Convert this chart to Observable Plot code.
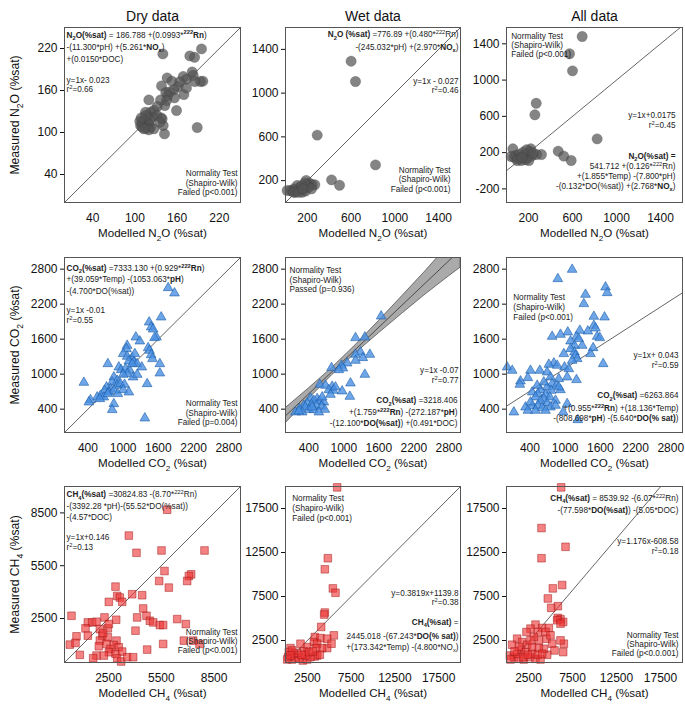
<!DOCTYPE html>
<html><head><meta charset="utf-8">
<script src="https://cdn.jsdelivr.net/npm/d3@7"></script>
<script src="https://cdn.jsdelivr.net/npm/@observablehq/plot@0.6"></script>
<style>
body{margin:0;background:#fff;}
#fig{position:relative;width:685px;height:709px;overflow:hidden;background:#fff;}
#fig svg{position:absolute;}
</style></head><body><div id="fig"></div>
<script>
// ---------- DATA (modelled, measured) ----------
const dryN2O = [[139.7,212.3],[178,209.4],[184.7,207.5],[194.6,219.4],[145.8,178],[168.6,179.9],[181.4,186.6],[182.8,181.4],[173.3,176.1],[193.2,172.8],[196.5,173.3],[185.1,172.8],[163.4,172.3],[152.5,173.3],[161.5,165.6],[155.3,160.9],[137.8,166.6],[143.9,157.1],[149.2,158],[146.8,152.8],[169.5,154.2],[156.3,149.5],[144.9,145.7],[136.4,146.6],[119.8,146.6],[159.1,131.4],[142.5,138.5],[131.6,137.1],[126.9,131.4],[122.2,129],[115.1,129],[131.6,124.2],[137.3,120.9],[124.5,121.9],[117.4,121.9],[112.7,117.1],[117.4,114.7],[110.3,114.7],[119.8,112.3],[113.6,111.4],[108,110],[122.2,107.6],[116,106.1],[110.3,107.6],[126.9,105.2],[119.8,103.8],[140.2,110],[138.7,119.5],[188.5,107.1],[142,98],[121.2,118],[115.1,124.2],[107,116.1],[135.4,114.7],[173.3,163.7],[112.7,105.2],[108.9,120.9]];
const wetN2O = [[600,1292],[640,1106],[290,616],[823,344],[421,207],[494,158],[46,110],[76,125],[107,110],[137,122],[168,140],[189,201],[198,165],[219,177],[244,162],[268,162],[152,94],[91,94],[61,104],[183,104],[213,140],[122,134],[107,155],[174,177],[15,110],[146,152],[238,125],[76,94],[122,94],[158,125]];
const allN2O = [[688,1481],[573,1290],[600,1102],[270,745],[258,617],[824,352],[470,216],[521,161],[588,113],[58,242],[318,179],[273,179],[67,150],[97,132],[127,150],[158,168],[188,187],[215,216],[221,242],[173,121],[133,113],[82,168],[112,179],[194,143],[233,168],[42,157],[152,205],[182,231],[97,113],[203,113],[142,143],[242,194]];
const dryCO2 = [[1767,2480],[1875,2389],[1648,1977],[1443,1891],[1477,1806],[1511,1771],[1568,1634],[1534,1623],[1216,1634],[1284,1566],[1068,1491],[1057,1434],[1426,1451],[1449,1406],[1477,1331],[1500,1263],[1000,1349],[1068,1303],[1153,1280],[1097,1223],[1182,1206],[1239,1177],[1625,1177],[1318,1120],[739,1177],[926,1120],[966,1074],[1040,1091],[1114,1063],[1068,1006],[1000,994],[1170,949],[1239,994],[1625,1017],[841,949],[898,891],[813,863],[898,806],[955,834],[1023,823],[1409,834],[330,857],[716,777],[784,749],[682,720],[756,691],[841,720],[909,663],[1000,731],[1097,691],[614,634],[557,606],[670,606],[443,560],[415,520],[841,491],[813,389],[1369,246],[739,663],[602,577],[1153,1177],[1199,1349]];
const wetCO2 = [[1640,1994],[1200,1623],[1360,1634],[1286,1377],[1200,1337],[1446,1337],[1326,1280],[1200,1234],[1057,1189],[960,1149],[789,1109],[983,1103],[914,1074],[1360,994],[1114,846],[589,823],[686,806],[800,789],[743,731],[817,720],[971,709],[771,651],[1103,617],[429,589],[543,577],[486,549],[589,537],[657,520],[371,503],[446,480],[314,463],[526,463],[617,446],[240,406],[343,434],[400,389],[486,389],[674,394],[171,349],[286,349],[571,349],[229,366],[457,434],[629,606],[857,777]];
const allCO2 = [[1119,2794],[875,2634],[1688,2491],[1716,2394],[1347,2366],[1318,2206],[1489,1989],[1671,1977],[1489,1834],[1517,1788],[1386,1737],[1045,1720],[920,1680],[778,1646],[1545,1646],[1591,1623],[1193,1646],[1233,1606],[1091,1566],[1159,1491],[1477,1451],[1091,1434],[1159,1377],[977,1349],[1176,1320],[1205,1263],[1119,1234],[1648,1177],[807,1189],[722,1166],[864,1149],[989,1120],[1063,1091],[11,1120],[97,1063],[409,1063],[568,1063],[693,1034],[239,880],[227,823],[364,937],[750,949],[892,920],[1034,949],[1193,903],[778,834],[852,806],[693,777],[761,720],[920,731],[580,731],[438,691],[534,663],[665,651],[739,606],[636,577],[494,606],[835,549],[580,537],[693,503],[324,434],[438,451],[534,463],[364,377],[494,377],[608,423],[125,349],[750,434],[1034,491],[966,349],[1216,217],[892,777],[1290,1491],[1432,1349],[1250,1749],[636,863],[523,806],[835,463],[409,520],[665,377]];
const dryCH4 = [[5834,8681],[3655,7212],[4091,6233],[5512,6365],[7955,6365],[5682,5197],[7197,5009],[7065,4915],[6970,4632],[5379,4632],[5928,4256],[2898,4312],[3845,3879],[4413,3822],[2993,3785],[3144,3691],[3277,3446],[2519,3446],[4470,3069],[398,2655],[2273,2561],[2936,2429],[4129,2561],[4659,2655],[4849,2373],[5038,2278],[5417,2128],[5606,2128],[6402,2467],[6894,2184],[1326,2278],[1572,2278],[1818,2316],[1193,1940],[2008,1902],[1326,1525],[682,1488],[2462,1940],[2519,2184],[2140,1525],[2462,1431],[2008,1243],[2955,1243],[4034,1808],[303,1017],[625,1111],[1951,923],[2386,1054],[2803,998],[3087,866],[2614,772],[2519,584],[2898,490],[3277,621],[1818,395],[1629,245],[2993,245],[3220,56],[3561,301],[3902,301],[4697,734],[5606,1054],[6780,1243],[7311,1243],[7671,1054],[871,433],[2235,395],[2197,1676]];
const wetCH4 = [[5906,19900],[4839,11849],[4496,10592],[5410,8420],[5715,7925],[4496,5677],[4420,5448],[4077,4039],[5525,3086],[3353,2896],[4000,2781],[4763,2705],[3239,2324],[3620,2134],[4763,1638],[4191,1638],[3505,1638],[3620,800],[3353,686],[3924,876],[2477,1753],[1715,2134],[2096,1257],[572,1638],[381,1181],[305,610],[762,343],[1143,610],[1524,495],[1981,229],[2477,343],[2858,610],[953,991],[1334,1105],[762,1372],[2286,800],[191,343],[2667,1181],[1829,876],[3124,1257],[572,800],[5258,2134]];
const allCH4 = [[6212,19900],[3977,15278],[6705,13145],[3977,11849],[6326,8801],[5265,8420],[4697,7277],[5834,6401],[5076,6210],[5834,5067],[6137,4915],[6440,4610],[5758,4801],[6137,4420],[3296,4305],[4053,3924],[4811,3924],[2727,3848],[2273,3467],[3561,3467],[4546,2705],[5190,2134],[6515,2134],[6137,2515],[5455,1372],[6440,1181],[4621,876],[4243,1562],[3674,2515],[3106,2896],[1212,2705],[644,2019],[1780,2324],[2349,2019],[2917,1753],[3674,1638],[1667,1372],[2159,1181],[379,800],[833,610],[1402,419],[1970,343],[2652,610],[3296,419],[3864,343],[1212,991],[455,343],[2917,991],[3561,876],[2727,2515],[1402,1753],[4432,3467],[1894,610],[2424,876],[909,1257],[5000,3086],[4053,991]];

// confidence band of the wet CO2 fit
const bandX    = [0,400,800,1200,1600,2000,2400,2800,3000];
const bandLow  = [155,575,983,1355,1700,2035,2365,2675,2825];
const bandHigh = [415,755,1107,1495,1910,2335,2765,3215,3445];

// fitted / reference lines [slope, intercept]
const lineDryN2O = [1,0], lineWetN2O = [1,0], lineAllN2O = [1,0.0175];
const lineDryCO2 = [1,0], lineWetCO2 = [0.95,285], lineAllCO2 = [0.648,451];
const lineDryCH4 = [1,0], lineWetCH4 = [1,0], lineAllCH4 = [1.176,-608.58];

// tick labels
const ticksN2Odry = [40,100,160,220];
const ticksN2O = [200,600,1000,1400];
const ticksN2Oall = [-200,200,600,1000,1400];
const ticksCO2 = [400,1000,1600,2200,2800];
const ticksCH4dry = [2500,5500,8500];
const ticksCH4 = [2500,7500,12500,17500];

// text
const titles = ["Dry data","Wet data","All data"];
const xLabels = ["Modelled N_{2}O (%sat)","Modelled CO_{2} (%sat)","Modelled CH_{4} (%sat)"];
const yLabels = ["Measured N_{2}O (%sat)","Measured CO_{2} (%sat)","Measured CH_{4} (%sat)"];
const normHead = ["Normality Test","(Shapiro-Wilk)"];
const eqDryN2O = ["[b]N_{2}O(%sat)[/b] = 186.788 +(0.0993*[b]^{222}Rn[/b])","-(11.300*pH) +(5.261*[b]NO_{x}[/b])","+(0.0150*DOC)"];
const eqWetN2O = ["[b]N_{2}O (%sat)[/b] =776.89 +(0.480*^{222}Rn)","-(245.032*pH) +(2.970*[b]NO_{x}[/b])"];
const eqAllN2O = ["[b]N_{2}O(%sat) =[/b]","541.712 +(0.126*^{222}Rn)","+(1.855*Temp) -(7.800*pH)","-(0.132*DO(%sat)) +(2.768*[b]NO_{x}[/b])"];
const eqDryCO2 = ["[b]CO_{2}(%sat)[/b] =7333.130 +(0.929*[b]^{222}Rn[/b])","+(39.059*Temp) -(1053.063*[b]pH[/b])","-(4.700*DO(%sat))"];
const eqWetCO2 = ["[b]CO_{2}(%sat)[/b] =3218.406","+(1.759*[b]^{222}Rn[/b]) -(272.187*[b]pH[/b])","-(12.100*[b]DO(%sat)[/b]) +(0.491*DOC)"];
const eqAllCO2 = ["[b]CO_{2}(%sat)[/b] =6263.864","+(0.955*[b]^{222}Rn[/b]) +(18.136*Temp)","-(808.698*[b]pH[/b]) -(5.640*[b]DO(% sat)[/b])"];
const eqDryCH4 = ["[b]CH_{4}(%sat)[/b] =30824.83 -(8.70*^{222}Rn)","-(3392.28 *pH)-(55.52*DO(%sat))","-(4.57*DOC)"];
const eqWetCH4 = ["[b]CH_{4}(%sat)[/b] =","2445.018 -(67.243*[b]DO(% sat)[/b])","+(173.342*Temp) -(4.800*NO_{x})"];
const eqAllCH4 = ["[b]CH_{4}(%sat)[/b] = 8539.92 -(6.07*^{222}Rn)","-(77.598*[b]DO(%sat)[/b]) -(5.05*DOC)"];

// ---------- DRAWING ----------
const FONT = '"Liberation Sans", Arial, Helvetica, sans-serif';
const fig = document.getElementById("fig");
const N2O_DOT = {r: 5.2, fill: "#555555", fillOpacity: 0.72, stroke: "#333", strokeOpacity: 0.4, strokeWidth: 0.5};
const CO2_DOT = {symbol: "triangle", r: 3.6, fill: "#4a90e2", fillOpacity: 0.8, stroke: "#1d5ea8", strokeWidth: 0.6};
const CH4_DOT = {symbol: "square", r: 4.3, fill: "#ee3535", fillOpacity: 0.62, stroke: "#9e1212", strokeWidth: 0.6, strokeOpacity: 0.8};
const AFS = 8.2;

function note(lines, anchor, dx, dys, fs = AFS) {
  const ta = anchor.endsWith("left") ? "start" : anchor.endsWith("right") ? "end" : "middle";
  return lines.map((s, i) => Plot.text([s], {text: d => d, frameAnchor: anchor, textAnchor: ta, lineAnchor: "middle", dx, dy: dys[i], fontSize: fs, fill: "#222"}));
}
function fitLine(p, xd) {
  return Plot.line([xd[0], xd[1]], {x: d => d, y: d => p[1] + p[0] * d, stroke: "#222", strokeWidth: 0.7, clip: true});
}

const colLeft = [0, 245, 465], colW = [245, 220, 220], colML = [64, 40, 41], colMR = [5, 5, 3];
const rowTop = [0, 230, 459], rowH = [245, 245, 250], rowMT = [27, 27, 27], rowMB = [43, 43, 47];

const panels = [
  {r:0,c:0,data:dryN2O,dot:N2O_DOT,xd:[0,250],yd:[0,250],xt:ticksN2Odry,yt:ticksN2Odry,line:lineDryN2O,
   notes:[...note(eqDryN2O,"top-left",2,[7.5,19.8,32.2]),...note(["y=1x- 0.023","r^{2}=0.66"],"top-left",2,[53,62]),...note([...normHead,"Failed (p<0.001)"],"bottom-right",-3,[-28.7,-19.3,-9.7])]},
  {r:0,c:1,data:wetN2O,dot:N2O_DOT,xd:[0,1600],yd:[0,1600],xt:ticksN2O,yt:ticksN2O,line:lineWetN2O,
   notes:[...note(eqWetN2O,"top-right",-2,[7.3,19.7]),...note(["y=1x - 0.027","r^{2}=0.46"],"top-right",-2,[54,63]),...note([...normHead,"Failed (p<0.001)"],"bottom-right",-10,[-32,-22.7,-13.3])]},
  {r:0,c:2,data:allN2O,dot:N2O_DOT,xd:[0,1600],yd:[-350,1580],xt:ticksN2O,yt:ticksN2Oall,line:lineAllN2O,
   notes:[...note([...normHead,"Failed (p<0.001)"],"top-left",4.7,[9,18.3,27.3]),...note(["y=1x+0.0175","r^{2}=0.45"],"top-right",-7,[88,98]),...note(eqAllN2O,"bottom-right",-7,[-46.3,-36.3,-26.3,-16.3])]},
  {r:1,c:0,data:dryCO2,dot:CO2_DOT,xd:[0,3000],yd:[0,3000],xt:ticksCO2,yt:ticksCO2,line:lineDryCO2,
   notes:[...note(eqDryCO2,"top-left",2,[10.7,22.3,33.7]),...note(["y=1x -0.01","r^{2}=0.55"],"top-left",2,[53,63]),...note([...normHead,"Failed (p=0.004)"],"bottom-right",-3,[-28.7,-19.3,-9.7])]},
  {r:1,c:1,data:wetCO2,dot:CO2_DOT,xd:[0,3000],yd:[0,3000],xt:ticksCO2,yt:ticksCO2,line:lineWetCO2,band:true,
   notes:[...note([...normHead,"Passed (p=0.936)"],"top-left",4,[13,23,32.3]),...note(["y=1x -0.07","r^{2}=0.77"],"bottom-right",-2,[-62,-52]),...note(eqWetCO2,"bottom-right",-3,[-32,-20.3,-9.3])]},
  {r:1,c:2,data:allCO2,dot:CO2_DOT,xd:[0,3000],yd:[0,3000],xt:ticksCO2,yt:ticksCO2,line:lineAllCO2,
   notes:[...note([...normHead,"Failed (p<0.001)"],"top-left",6.7,[39.7,49.7,59.7]),...note(["y=1x+ 0.043","r^{2}=0.59"],"bottom-right",-4,[-77,-67]),...note(eqAllCO2,"bottom-right",-4,[-37,-23.7,-13.7])]},
  {r:2,c:0,data:dryCH4,dot:CH4_DOT,xd:[0,10000],yd:[0,10000],xt:ticksCH4dry,yt:ticksCH4dry,line:lineDryCH4,
   notes:[...note(eqDryCH4,"top-left",2,[8.3,20,30.7]),...note(["y=1x+0.146","r^{2}=0.13"],"top-left",2,[50.7,60.7]),...note([...normHead,"Failed (p<0.001)"],"bottom-right",-3,[-30.3,-21.3,-12])]},
  {r:2,c:1,data:wetCH4,dot:CH4_DOT,xd:[0,20000],yd:[0,20000],xt:ticksCH4,yt:ticksCH4,line:lineWetCH4,
   notes:[...note([...normHead,"Failed (p<0.001)"],"top-left",6.7,[12.3,22.3,31.7]),...note(["y=0.3819x+1139.8","r^{2}=0.38"],"bottom-right",-2,[-69.3,-59.7]),...note(eqWetCH4,"bottom-right",-2,[-40.3,-26.3,-15.3])]},
  {r:2,c:2,data:allCH4,dot:CH4_DOT,xd:[0,20000],yd:[0,20000],xt:ticksCH4,yt:ticksCH4,line:lineAllCH4,
   notes:[...note(eqAllCH4,"top-right",-4,[11.7,24]),...note(["y=1.176x-608.58","r^{2}=0.18"],"top-right",-4,[55,65]),...note([...normHead,"Failed (p<0.0.001)"],"bottom-right",-4,[-27,-18,-8.7])]}
];

for (const p of panels) {
  const marks = [];
  if (p.band) {
    const band = bandX.map((x, i) => ({x, lo: bandLow[i], hi: bandHigh[i]}));
    marks.push(Plot.areaY(band, {x: "x", y1: "lo", y2: "hi", fill: "#aaaaaa", stroke: "#555", strokeWidth: 0.8, clip: true}));
  }
  marks.push(fitLine(p.line, p.xd));
  marks.push(Plot.dot(p.data, {x: d => d[0], y: d => d[1], ...p.dot}));
  marks.push(...p.notes);
  marks.push(Plot.text([xLabels[p.r]], {text: d => d, frameAnchor: "bottom", textAnchor: "middle", lineAnchor: "middle", dy: 31, fontSize: 11.6, fill: "#111"}));
  if (p.c === 0) marks.push(Plot.text([yLabels[p.r]], {text: d => d, frameAnchor: "left", textAnchor: "middle", lineAnchor: "middle", dx: -49, rotate: -90, fontSize: 12.2, fill: "#111"}));
  if (p.r === 0) marks.push(Plot.text([titles[p.c]], {text: d => d, frameAnchor: "top", textAnchor: "middle", lineAnchor: "middle", dy: -10.5, fontSize: 14, fill: "#111"}));
  marks.push(Plot.frame({stroke: "#555", strokeWidth: 1}));
  const svg = Plot.plot({
    width: colW[p.c], height: rowH[p.r],
    marginLeft: colML[p.c], marginRight: colMR[p.c], marginTop: rowMT[p.r], marginBottom: rowMB[p.r],
    x: {domain: p.xd, ticks: p.xt, tickFormat: d => String(d), tickSize: 0, tickPadding: 11, label: null},
    y: {domain: p.yd, ticks: p.yt, tickFormat: d => String(d), tickSize: 4, tickPadding: 3, label: null},
    style: {left: colLeft[p.c] + "px", top: rowTop[p.r] + "px", background: "transparent", overflow: "visible", fontFamily: FONT, fontSize: "12px", color: "#111", maxWidth: "none"},
    marks
  });
  fig.appendChild(svg);
}

// rich text: [b]bold[/b], _{sub}, ^{sup}
function richify(root) {
  root.querySelectorAll("text").forEach(t => {
    const s = t.textContent;
    if (!/\[b\]|_\{|\^\{/.test(s)) return;
    const fs = parseFloat(getComputedStyle(t).fontSize) || 10;
    while (t.firstChild) t.removeChild(t.firstChild);
    let bold = false, shift = 0;
    for (const part of s.split(/(\[b\]|\[\/b\]|_\{[^}]*\}|\^\{[^}]*\})/)) {
      if (!part) continue;
      if (part === "[b]") { bold = true; continue; }
      if (part === "[/b]") { bold = false; continue; }
      let txt = part, target = 0, small = false;
      if (part.startsWith("_{")) { txt = part.slice(2, -1); target = fs * 0.3; small = true; }
      else if (part.startsWith("^{")) { txt = part.slice(2, -1); target = -fs * 0.4; small = true; }
      const ts = document.createElementNS("http://www.w3.org/2000/svg", "tspan");
      ts.textContent = txt;
      if (target !== shift) { ts.setAttribute("dy", (target - shift).toFixed(2)); shift = target; }
      if (small) ts.setAttribute("font-size", (fs * 0.7).toFixed(2));
      if (bold) ts.setAttribute("font-weight", "bold");
      t.appendChild(ts);
    }
  });
}
richify(fig);
</script></body></html>
